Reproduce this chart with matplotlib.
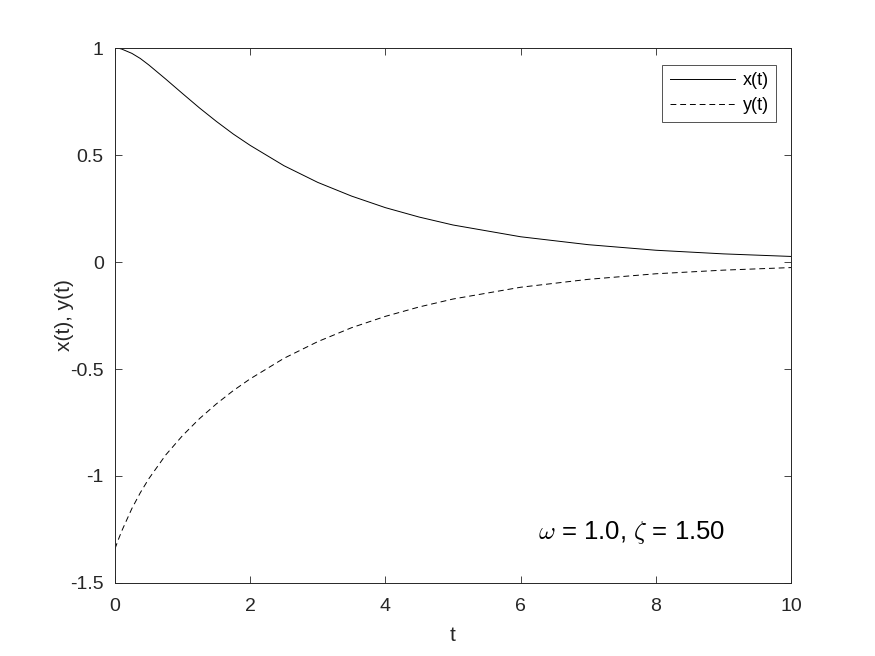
import matplotlib
matplotlib.use("Agg")
import matplotlib.pyplot as plt

plt.rcParams["font.family"] = ["Liberation Sans", "DejaVu Sans"]
plt.rcParams["axes.unicode_minus"] = False
plt.rcParams["mathtext.fontset"] = "cm"

# values
t = [0, 0.05, 0.1, 0.25, 0.375, 0.5, 0.75, 1, 1.25, 1.5, 1.75, 2, 2.5, 3, 3.5,
     4, 4.5, 5, 6, 7, 8, 9, 10]
x = [1.0, 0.999, 0.995, 0.975, 0.951, 0.921, 0.855, 0.787, 0.720, 0.657, 0.598,
     0.545, 0.450, 0.372, 0.308, 0.254, 0.210, 0.173, 0.118, 0.081, 0.055, 0.038, 0.026]
y = [-1.34, -1.297, -1.257, -1.152, -1.078, -1.013, -0.902, -0.811, -0.732, -0.663,
     -0.601, -0.546, -0.450, -0.372, -0.307, -0.254, -0.210, -0.173, -0.118, -0.081,
     -0.055, -0.038, -0.026]

xticks = [0, 2, 4, 6, 8, 10]
yticks = [-1.5, -1, -0.5, 0, 0.5, 1]
yticklabels = ["-1.5", "-1", "-0.5", "0", "0.5", "1"]

fig = plt.figure(figsize=(8.75, 6.56), dpi=100)
ax = fig.add_axes([0.1314, 0.1113, 0.7726, 0.8155])

ax.plot(t, x, "-", color="black", lw=0.7, label="x(t)")
ax.plot(t, y, "--", color="black", lw=0.7, dashes=(6, 4), label="y(t)")

ax.set_xlim(0, 10)
ax.set_ylim(-1.5, 1)
ax.set_xticks(xticks)
ax.set_yticks(yticks)
ax.set_yticklabels(yticklabels)
ax.tick_params(direction="in", top=True, right=True, labelsize=14, length=5,
               width=0.6, colors="#262626", pad=8)
ax.tick_params(axis="x", pad=11)
for s in ax.spines.values():
    s.set_linewidth(0.7)
    s.set_color("#262626")

ax.set_xlabel("t", fontsize=15, color="#262626", labelpad=8)
ax.set_ylabel("x(t), y(t)", fontsize=15, color="#262626", labelpad=-3)

ax.text(6.26, -1.266, r"$\omega$ = 1.0, $\zeta$ = 1.50", fontsize=18.5, va="center", ha="left")

leg = ax.legend(loc="upper right", bbox_to_anchor=(0.978, 0.968), fontsize=13,
                frameon=True, fancybox=False, edgecolor="#262626", handlelength=3.6,
                borderaxespad=0, borderpad=0.4, labelspacing=0.45, handletextpad=0.45)
leg.get_frame().set_linewidth(0.7)

fig.savefig("out.png", dpi=100)
